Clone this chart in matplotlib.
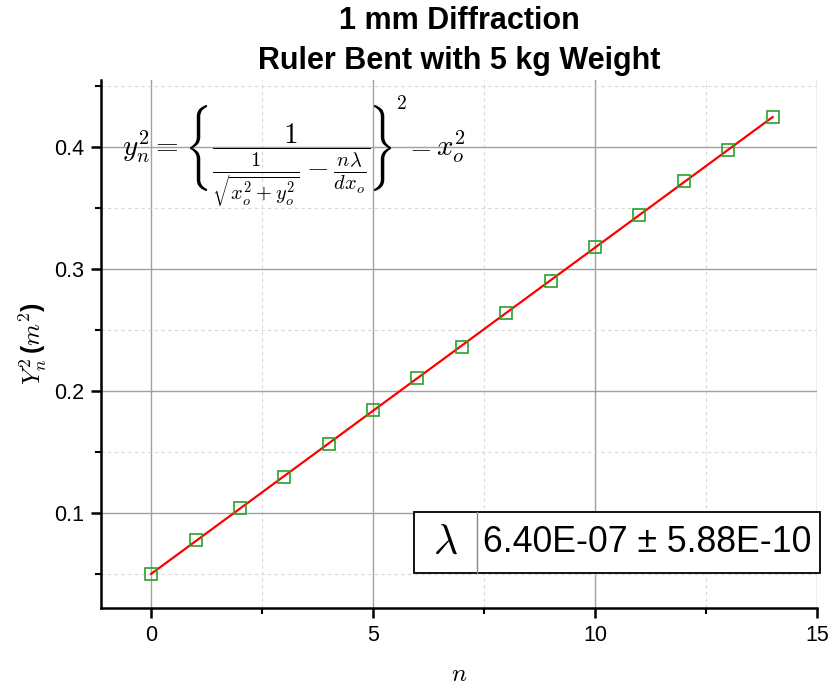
import matplotlib
matplotlib.use("Agg")
import matplotlib.pyplot as plt
from matplotlib.ticker import MultipleLocator
from matplotlib.patches import Rectangle, PathPatch
from matplotlib.textpath import TextPath
from matplotlib.font_manager import FontProperties
from matplotlib.transforms import Affine2D, IdentityTransform
import numpy as np

plt.rcParams['mathtext.fontset'] = 'cm'
plt.rcParams['font.family'] = ['Liberation Sans', 'DejaVu Sans']

n = [0, 1, 2, 3, 4, 5, 6, 7, 8, 9, 10, 11, 12, 13, 14]
y2 = [0.0500, 0.0779, 0.1040, 0.1295, 0.1566, 0.1844, 0.2107, 0.2360,
      0.2639, 0.2902, 0.3180, 0.3443, 0.3720, 0.3975, 0.4246]
fit_n = [0, 14]
fit_y = [0.0500, 0.4246]

title = "1 mm Diffraction\nRuler Bent with 5 kg Weight"
lam_label = r"$\lambda$"
lam_value = "6.40E-07 ± 5.88E-10"

W, H = 830, 691
fig = plt.figure(figsize=(W / 100, H / 100), dpi=100)
ax = fig.add_axes([101/W, 1-608/H, (817-101)/W, (608-80)/H])

ax.plot(fit_n, fit_y, color='red', lw=1.6, zorder=3)
ax.plot(n, y2, linestyle='none', marker='s', markersize=8, markerfacecolor='none',
        markeredgecolor='#2ca02c', markeredgewidth=1.2, zorder=4)

ax.set_xlim(-1.13, 15)
ax.set_ylim(0.022, 0.455)
ax.xaxis.set_major_locator(MultipleLocator(5))
ax.xaxis.set_minor_locator(MultipleLocator(2.5))
ax.yaxis.set_major_locator(MultipleLocator(0.1))
ax.yaxis.set_minor_locator(MultipleLocator(0.05))

ax.grid(which='major', color='#a0a0a0', lw=1.0)
ax.grid(which='minor', color='#d8d8d8', lw=0.8, ls=(0, (3, 3)))
ax.set_axisbelow(True)

for s in ['top', 'right']:
    ax.spines[s].set_visible(False)
for s in ['left', 'bottom']:
    ax.spines[s].set_linewidth(1.8)

ax.tick_params(which='major', direction='out', length=7, width=1.8, labelsize=15.5, pad=5)
ax.tick_params(which='minor', direction='out', length=4, width=1.5)

ax.set_xlabel(r"$n$", fontsize=18, labelpad=12)
ax.set_ylabel(r"$Y_n^2\,$" + "(" + r"$m^2$" + ")", fontsize=18, labelpad=3,
              fontweight='bold')
ax.set_title(title, fontsize=22, fontweight='bold', pad=8, linespacing=1.45)

# ---- equation, assembled from pieces (pixel coordinates, y from top) ----
def fx(px):
    return px / W
def fy(py):
    return 1 - py / H

eq_fs = 21
base_y = 156          # baseline of main line
axis_y = 148          # math axis (fraction bar)
renderer = fig.canvas.get_renderer()

t_lhs = fig.text(fx(179), fy(base_y), r"$y_n^2 =$", fontsize=eq_fs,
                 ha='right', va='baseline')
t_frac = fig.text(fx(212), fy(base_y),
                  r"$\dfrac{1}{\frac{1}{\sqrt{x_o^2+y_o^2}} - \frac{n\lambda}{dx_o}}$",
                  fontsize=eq_fs, ha='left', va='baseline')
bb = t_frac.get_window_extent(renderer)
frac_right = bb.x1  # display px

brace_h, brace_w = 86, 17
def add_brace(char, left_px):
    tp = TextPath((0, 0), char, size=10, prop=FontProperties(math_fontfamily='cm'))
    ext = tp.get_extents()
    tr = (Affine2D().translate(-ext.x0, -ext.y0)
          .scale(brace_w / ext.width, brace_h / ext.height)
          .translate(left_px, (H - axis_y) - brace_h / 2))
    path = tr.transform_path(tp)
    fig.patches.append(PathPatch(path, transform=IdentityTransform(),
                                 facecolor='black', edgecolor='none', zorder=5))

add_brace(r"$\{$", 190)
rb_left = frac_right + 4
add_brace(r"$\}$", rb_left)
sup_x = rb_left + brace_w + 5
fig.text(sup_x / W, fy(104), r"$2$", fontsize=14, ha='left', va='center')
fig.text((sup_x + 13) / W, fy(base_y), r"$-$", fontsize=eq_fs,
         ha='left', va='baseline')
fig.text((sup_x + 40) / W, fy(base_y), r"$x_o^2$", fontsize=eq_fs,
         ha='left', va='baseline')

# ---- lambda box ----
x0, x1, x2 = 414, 477, 820
ytop, ybot = 512, 573
fig.patches.append(Rectangle((fx(x0), fy(ybot)), fx(x2) - fx(x0), fy(ytop) - fy(ybot),
                             transform=fig.transFigure, facecolor='white',
                             edgecolor='black', lw=1.3, zorder=5))
fig.lines.append(plt.Line2D([fx(x1), fx(x1)], [fy(ybot), fy(ytop)],
                            transform=fig.transFigure, color='#888888', lw=1.0, zorder=6))
fig.text(fx((x0 + x1) / 2), fy((ytop + ybot) / 2), lam_label, fontsize=30,
         ha='center', va='center', zorder=7)
fig.text(fx(x1 + 6), fy((ytop + ybot) / 2), lam_value, fontsize=25.7,
         ha='left', va='center', zorder=7)

fig.savefig("out.png", dpi=100)
